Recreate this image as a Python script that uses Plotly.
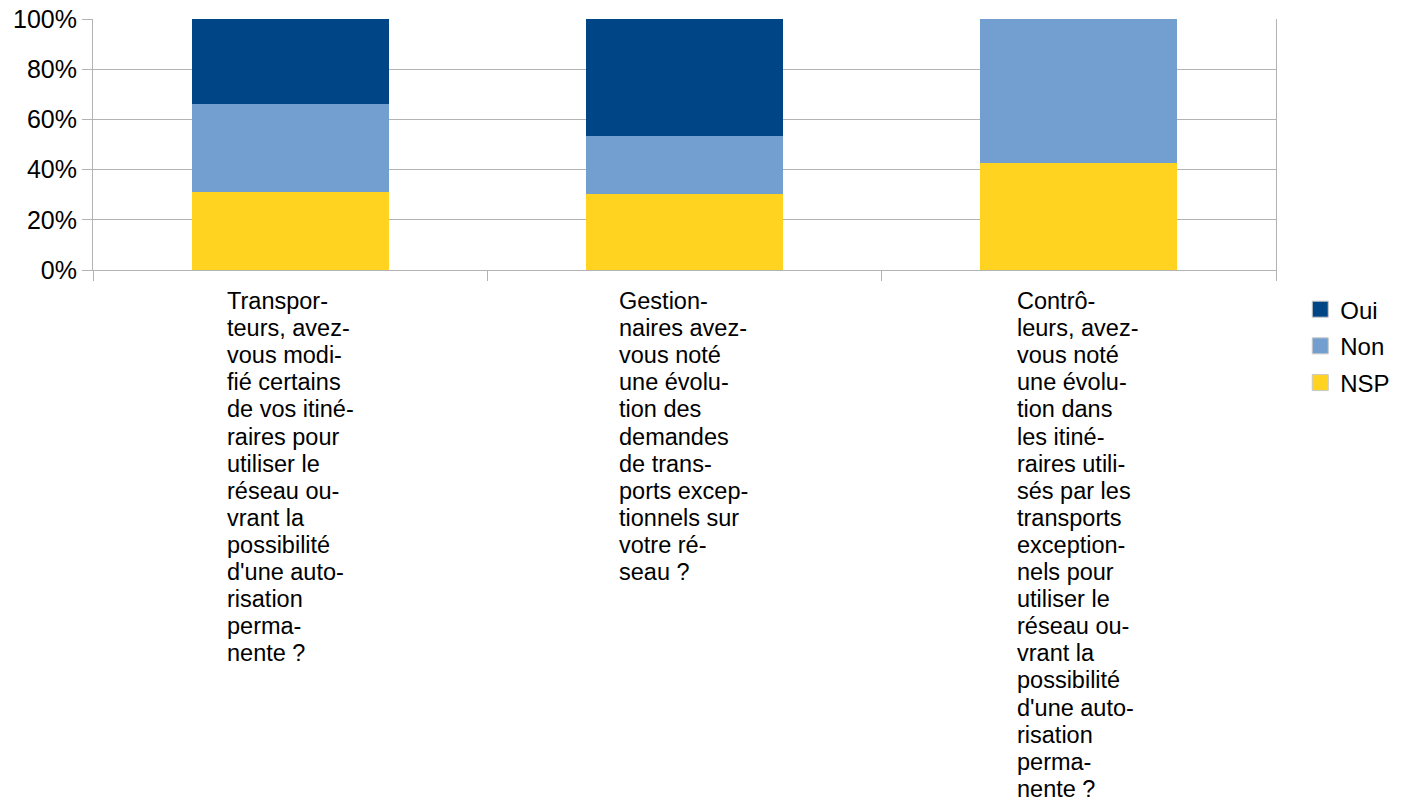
import plotly.graph_objects as go

# Survey questions (one per column), each split into its printed lines
questions = [
    ["Transpor-", "teurs, avez-", "vous modi-", "fié certains", "de vos itiné-",
     "raires pour", "utiliser le", "réseau ou-", "vrant la", "possibilité",
     "d'une auto-", "risation", "perma-", "nente ?"],
    ["Gestion-", "naires avez-", "vous noté", "une évolu-", "tion des",
     "demandes", "de trans-", "ports excep-", "tionnels sur", "votre ré-",
     "seau ?"],
    ["Contrô-", "leurs, avez-", "vous noté", "une évolu-", "tion dans",
     "les itiné-", "raires utili-", "sés par les", "transports", "exception-",
     "nels pour", "utiliser le", "réseau ou-", "vrant la", "possibilité",
     "d'une auto-", "risation", "perma-", "nente ?"],
]
categories = ["Q1", "Q2", "Q3"]

# Share of answers per question (fractions of 1)
nsp = [0.311, 0.303, 0.426]
non = [0.350, 0.231, 0.574]
oui = [0.339, 0.466, 0.0]

tick_vals = [0, 0.2, 0.4, 0.6, 0.8, 1.0]
tick_text = ["0%", "20%", "40%", "60%", "80%", "100%"]

FONT = "Liberation Sans, Arial, sans-serif"
GRID = "#b3b3b3"
COLORS = {"NSP": "#FFD320", "Non": "#729FCF", "Oui": "#004586"}

fig = go.Figure()
for name, vals in (("NSP", nsp), ("Non", non), ("Oui", oui)):
    fig.add_trace(go.Bar(name=name, x=categories, y=vals,
                         marker_color=COLORS[name], marker_line_width=0,
                         showlegend=False, legendgroup=name))

# Legend entries drawn as larger square swatches
for name in ("Oui", "Non", "NSP"):
    fig.add_trace(go.Scatter(
        x=[None], y=[None], mode="markers", name=name, legendgroup=name,
        marker=dict(symbol="square", size=16, color=COLORS[name],
                    line=dict(color="#c8c8c8", width=1)),
    ))

# Left edge of each text block relative to the column centre (px)
left_offsets = [-65, -68, -64]
line_pitch = 27.1
for cat, lines, off in zip(categories, questions, left_offsets):
    for i, line in enumerate(lines):
        fig.add_annotation(
            x=cat, xref="x", y=0, yref="paper",
            text=line, showarrow=False,
            xanchor="left", yanchor="middle",
            xshift=off, yshift=-(31 + i * line_pitch),
            font=dict(family=FONT, size=23.5, color="#000000"),
            align="left",
        )

fig.update_layout(
    width=1407, height=800,
    margin=dict(l=93, r=131, t=19, b=530, autoexpand=False),
    barmode="stack", bargap=0.5,
    plot_bgcolor="white", paper_bgcolor="white",
    font=dict(family=FONT, color="#000000"),
    showlegend=True,
    legend=dict(
        x=1.0205, y=-0.068, xanchor="left", yanchor="top",
        traceorder="grouped",
        font=dict(family=FONT, size=24, color="#000000"),
        itemwidth=30, tracegroupgap=2.5,
        bgcolor="rgba(0,0,0,0)",
    ),
)
fig.update_xaxes(
    showticklabels=False, showgrid=False,
    showline=True, linecolor=GRID, linewidth=1,
    ticks="outside", ticklen=10, tickcolor=GRID, tickwidth=1,
    tickson="boundaries",
)
fig.update_yaxes(
    range=[0, 1], tickvals=tick_vals, ticktext=tick_text,
    showgrid=True, gridcolor=GRID, gridwidth=1,
    showline=True, linecolor=GRID, linewidth=1, mirror=True,
    ticks="outside", ticklen=10, tickcolor=GRID, tickwidth=1,
    tickfont=dict(family=FONT, size=25, color="#000000"),
    zeroline=False,
)

fig.write_html("out.html")
